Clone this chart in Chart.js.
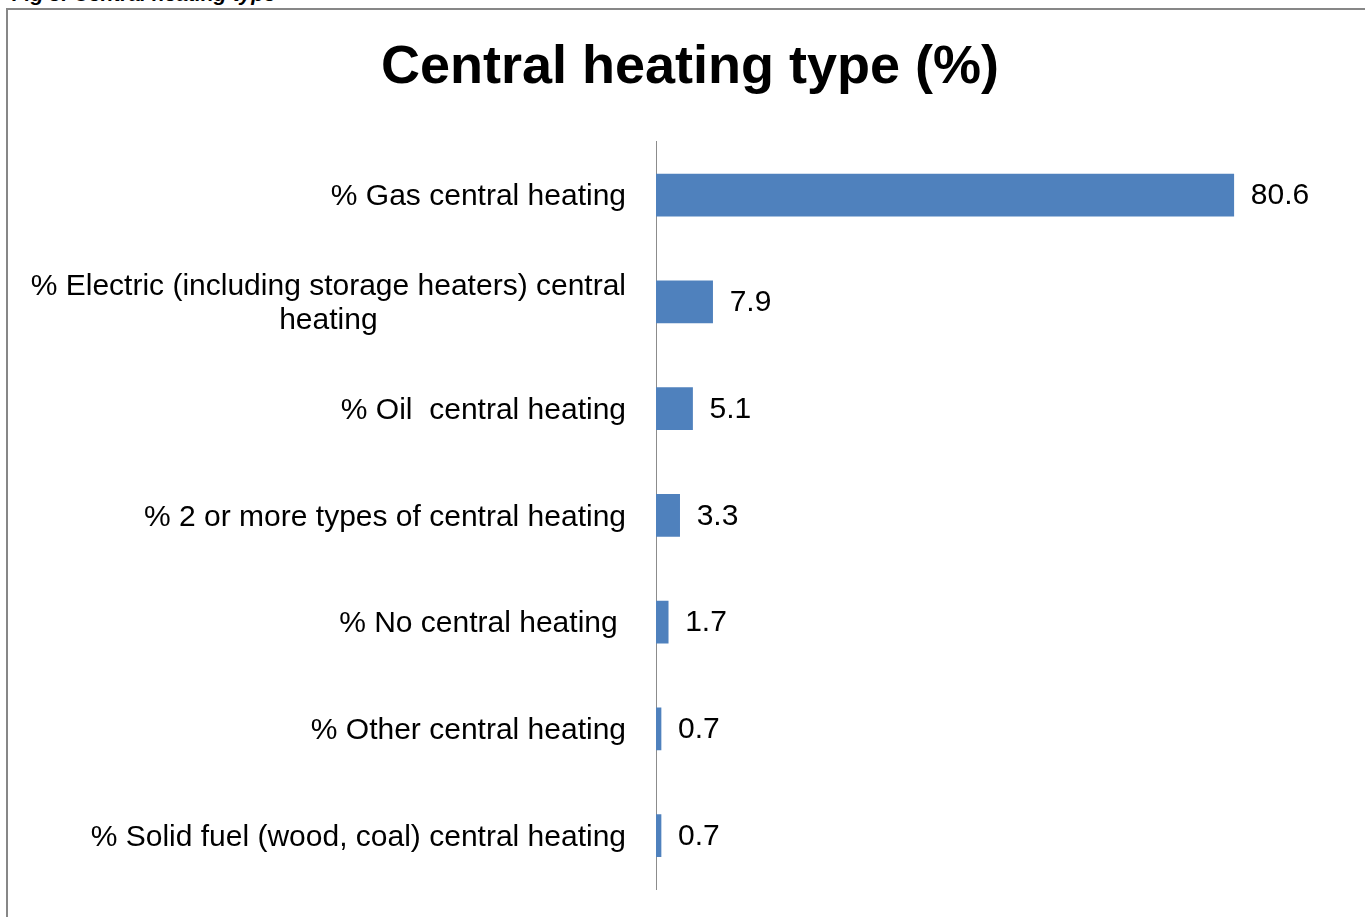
<!DOCTYPE html>
<html>
<head>
<meta charset="utf-8">
<script src="https://cdn.jsdelivr.net/npm/chart.js@4"></script>
<style>
  html, body { margin: 0; padding: 0; background: #fff; overflow: hidden; }
  #fig { position: absolute; left: 12px; top: -17px; font: italic bold 21px "Liberation Sans", Arial, sans-serif; line-height: 21px; white-space: nowrap; }
  #frame { position: absolute; left: 6px; top: 8px; width: 1400px; height: 950px; border: 2px solid #878787; }
  #myChart { position: absolute; left: 0; top: 0; }
</style>
</head>
<body>
<div id="fig">Fig 8: Central heating type</div>
<div id="frame"></div>
<canvas id="myChart" width="1380" height="917"></canvas>
<script>
var categories = [
  "% Gas central heating",
  ["% Electric (including storage heaters) central", "heating"],
  "% Oil  central heating",
  "% 2 or more types of central heating",
  "% No central heating ",
  "% Other central heating",
  "% Solid fuel (wood, coal) central heating",
];
var values = [80.6, 7.9, 5.1, 3.3, 1.7, 0.7, 0.7];

var labelFont = '30px "Liberation Sans", Arial, sans-serif';

// category names: lines centred within their block, block right-aligned to the axis
var categoryLabels = {
  id: "categoryLabels",
  afterDraw: function (chart) {
    var ctx = chart.ctx;
    var yScale = chart.scales.y;
    var right = chart.chartArea.left - 30;
    ctx.save();
    ctx.font = labelFont;
    ctx.fillStyle = "#000";
    ctx.textAlign = "center";
    ctx.textBaseline = "middle";
    categories.forEach(function (lab, i) {
      var lines = [].concat(lab);
      var w = Math.max.apply(null, lines.map(function (l) { return ctx.measureText(l).width; }));
      var yc = yScale.getPixelForValue(i) + 2;
      lines.forEach(function (l, j) {
        ctx.fillText(l, right - w / 2, yc + (j - (lines.length - 1) / 2) * 34);
      });
    });
    ctx.restore();
  },
};

// value labels at the end of each bar
var valueLabels = {
  id: "valueLabels",
  afterDatasetsDraw: function (chart) {
    var ctx = chart.ctx;
    var meta = chart.getDatasetMeta(0);
    ctx.save();
    ctx.font = labelFont;
    ctx.fillStyle = "#000";
    ctx.textAlign = "left";
    ctx.textBaseline = "middle";
    meta.data.forEach(function (bar, i) {
      ctx.fillText(values[i].toFixed(1), bar.x + 17, bar.y + 1);
    });
    ctx.restore();
  },
};

Chart.defaults.font.family = '"Liberation Sans", Arial, sans-serif';

var ctx = document.getElementById("myChart").getContext("2d");

var myChart = new Chart(ctx, {
  type: "bar",
  data: {
    labels: categories,
    datasets: [
      {
        data: values,
        backgroundColor: "#4F81BD",
        borderWidth: 0,
        barThickness: 42,
      },
    ],
  },
  options: {
    indexAxis: "y",
    responsive: false,
    animation: false,
    layout: { padding: { left: 0, right: 0, top: 0, bottom: 28 } },
    scales: {
      x: { min: 0, max: 101, display: false },
      y: {
        ticks: { display: false },
        grid: { display: false },
        border: { display: true, color: "#8c8c8c", width: 1 },
        afterFit: function (scale) {
          scale.width = 656;
        },
      },
    },
    plugins: {
      legend: { display: false },
      tooltip: { enabled: false },
      title: {
        display: true,
        text: "Central heating type (%)",
        color: "#000",
        font: { size: 54, weight: "bold" },
        padding: { top: 36, bottom: 41 },
      },
    },
  },
  plugins: [categoryLabels, valueLabels],
});
</script>
</body>
</html>
